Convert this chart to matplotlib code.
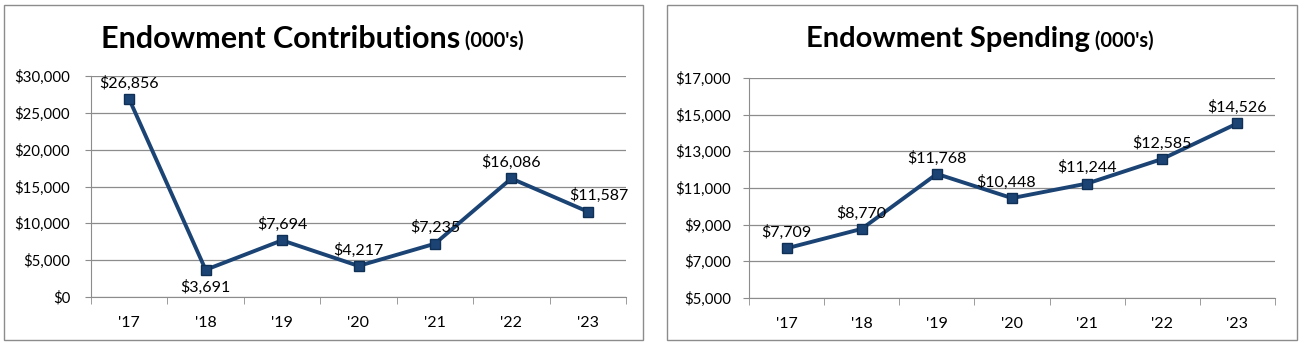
import matplotlib
matplotlib.use("Agg")
import matplotlib.pyplot as plt
from matplotlib.patches import Rectangle
from matplotlib.ticker import FuncFormatter

years = ["'17", "'18", "'19", "'20", "'21", "'22", "'23"]
contributions = [26856, 3691, 7694, 4217, 7235, 16086, 11587]
spending = [7709, 8770, 11768, 10448, 11244, 12585, 14526]

plt.rcParams['font.family'] = ['Lato', 'DejaVu Sans']
navy = '#1b4474'
grid_c = '#8c8c8c'

W, H = 1303, 345
fig = plt.figure(figsize=(W / 100, H / 100), dpi=100)


def px_box(x0, y0, x1, y1):
    # pixel box (top-left origin) -> figure fraction [l, b, w, h]
    return [x0 / W, 1 - y1 / H, (x1 - x0) / W, (y1 - y0) / H]


def panel(frame, axbox, values, ylim, step, title, below, shifts, title_size, title_cx, ypad):
    fig.patches.append(Rectangle(frame[:2], frame[2], frame[3], transform=fig.transFigure,
                                 fill=False, edgecolor=grid_c, linewidth=1.0))
    ax = fig.add_axes(axbox)
    x = list(range(len(values)))
    ax.plot(x, values, color=navy, linewidth=2.8, marker='s', markersize=7,
            markerfacecolor=navy, markeredgecolor='#0f2f55', zorder=3)
    ax.set_xlim(-0.5, len(values) - 0.5)
    ax.set_ylim(*ylim)
    ax.set_yticks(range(ylim[0], ylim[1] + 1, step))
    ax.yaxis.set_major_formatter(FuncFormatter(lambda v, p: '${:,.0f}'.format(v)))
    ax.set_xticks(x)
    ax.set_xticklabels(years)
    ax.set_xticks([i - 0.5 for i in range(len(values) + 1)], minor=True)
    ax.tick_params(axis='x', which='major', length=0, labelsize=11.5, pad=14)
    ax.tick_params(axis='x', which='minor', length=5, color=grid_c, direction='out')
    ax.tick_params(axis='y', length=4, color=grid_c, labelsize=10.8, pad=ypad)
    ax.grid(axis='y', color=grid_c, linewidth=0.9)
    ax.set_axisbelow(True)
    for s in ['top', 'right']:
        ax.spines[s].set_visible(False)
    for s in ['left', 'bottom']:
        ax.spines[s].set_color(grid_c)
    for i, v in enumerate(values):
        dx = shifts.get(i, 0)
        if i in below:
            ax.annotate('${:,}'.format(v), (i, v), xytext=(dx, -7), textcoords='offset points',
                        ha='center', va='top', fontsize=11.5)
        else:
            ax.annotate('${:,}'.format(v), (i, v), xytext=(dx, 6), textcoords='offset points',
                        ha='center', va='bottom', fontsize=11.5)
    # title: bold main part + smaller suffix
    t1 = fig.text(0, 1 - 39 / H, title, fontsize=title_size, fontweight='bold', va='center', ha='left')
    t2 = fig.text(0, 1 - 41 / H, " (000's)", fontsize=14.5, fontweight='bold', va='center', ha='left')
    r = fig.canvas.get_renderer()
    w1 = t1.get_window_extent(r).width
    w2 = t2.get_window_extent(r).width
    start = title_cx - (w1 + w2) / 2
    t1.set_x(start / W)
    t2.set_x((start + w1) / W)
    return ax


panel([4 / W, 5 / H, 639 / W, 335 / H], px_box(91, 76, 626, 297), contributions,
      (0, 30000), 5000, 'Endowment Contributions', [1], {6: 8}, 22, 312, 11)
panel([667 / W, 5 / H, 630 / W, 335 / H], px_box(749, 78, 1275, 298), spending,
      (5000, 17000), 2000, 'Endowment Spending', [], {3: -4}, 21, 980, 9)

fig.savefig('out.png', dpi=100)
